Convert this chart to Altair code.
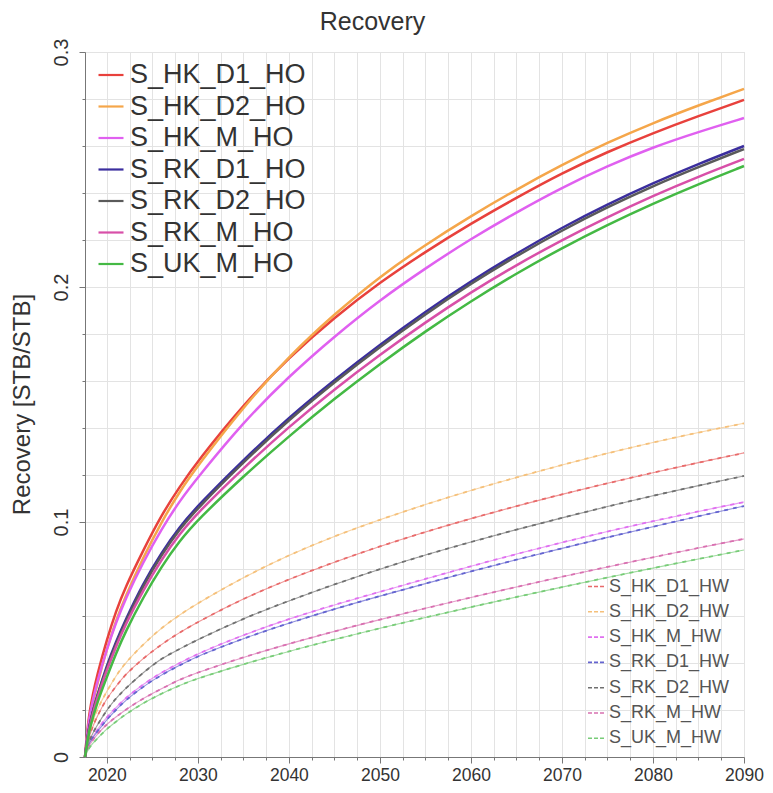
import altair as alt
import pandas as pd

# Simulation years (production starts mid-2017)
years = [2017.6, 2018, 2019, 2020, 2021, 2022, 2024, 2026, 2028, 2030, 2035,
         2040, 2045, 2050, 2055, 2060, 2065, 2070, 2075, 2080, 2085, 2090]

# Solid curves: "HO" cases
ho_names = ["S_HK_D1_HO", "S_HK_D2_HO", "S_HK_M_HO", "S_RK_D1_HO",
            "S_RK_D2_HO", "S_RK_M_HO", "S_UK_M_HO"]
ho_colors = ["#e8413c", "#f5a64a", "#e060f0", "#3b2e9e",
             "#5a5a5a", "#d84fa8", "#44b944"]
s_hk_d1_ho = [0, 0.019, 0.036, 0.050, 0.062, 0.072, 0.088, 0.103, 0.115, 0.126, 0.150,
              0.170, 0.187, 0.202, 0.215, 0.227, 0.238, 0.2485, 0.2575, 0.2655, 0.2728, 0.2796]
s_hk_d2_ho = [0, 0.016, 0.032, 0.046, 0.058, 0.068, 0.085, 0.100, 0.113, 0.124, 0.149,
              0.1705, 0.1885, 0.2045, 0.218, 0.2302, 0.2415, 0.252, 0.2615, 0.2698, 0.2773, 0.2843]
s_hk_m_ho = [0, 0.017, 0.033, 0.046, 0.057, 0.067, 0.083, 0.097, 0.109, 0.119, 0.1425,
             0.162, 0.179, 0.1945, 0.208, 0.2205, 0.2318, 0.2423, 0.2515, 0.2595, 0.266, 0.2719]
s_rk_d1_ho = [0, 0.013, 0.027, 0.039, 0.049, 0.058, 0.074, 0.087, 0.098, 0.107, 0.1265,
              0.1445, 0.1605, 0.1755, 0.1895, 0.2025, 0.2143, 0.2253, 0.2352, 0.2442, 0.2524, 0.260]
s_rk_d2_ho = [0, 0.013, 0.027, 0.038, 0.048, 0.057, 0.073, 0.086, 0.097, 0.106, 0.1255,
              0.1435, 0.1595, 0.1745, 0.1885, 0.2015, 0.2132, 0.2241, 0.2340, 0.2430, 0.2511, 0.2587]
s_rk_m_ho = [0, 0.012, 0.026, 0.037, 0.047, 0.056, 0.071, 0.084, 0.095, 0.104, 0.123,
             0.1405, 0.1565, 0.1712, 0.1850, 0.1978, 0.2094, 0.2200, 0.2298, 0.2388, 0.2470, 0.2545]
s_uk_m_ho = [0, 0.011, 0.024, 0.034, 0.044, 0.053, 0.068, 0.081, 0.092, 0.101, 0.1195,
             0.1365, 0.1525, 0.1673, 0.1812, 0.1940, 0.2058, 0.2166, 0.2265, 0.2355, 0.2438, 0.2515]

# Dashed curves: "HW" cases
hw_names = ["S_HK_D1_HW", "S_HK_D2_HW", "S_HK_M_HW", "S_RK_D1_HW",
            "S_RK_D2_HW", "S_RK_M_HW", "S_UK_M_HW"]
hw_colors = ["#e86a6a", "#f5c07a", "#e070f0", "#6464d0",
             "#707070", "#d870b0", "#78cc78"]
s_hk_d1_hw = [0, 0.009, 0.018, 0.025, 0.030, 0.035, 0.042, 0.048, 0.053, 0.0575, 0.0675,
              0.0757, 0.083, 0.0897, 0.0958, 0.1015, 0.1068, 0.1118, 0.1165, 0.1210, 0.1253, 0.1294]
s_hk_d2_hw = [0, 0.011, 0.021, 0.028, 0.0345, 0.040, 0.048, 0.055, 0.0605, 0.0655, 0.0765,
              0.086, 0.094, 0.101, 0.1075, 0.1135, 0.119, 0.1243, 0.1293, 0.1339, 0.1381, 0.142]
s_hk_m_hw = [0, 0.006, 0.012, 0.017, 0.021, 0.025, 0.031, 0.036, 0.040, 0.044, 0.052,
             0.0588, 0.0648, 0.0703, 0.0758, 0.0812, 0.0864, 0.0913, 0.0960, 0.1004, 0.1045, 0.1085]
s_rk_d1_hw = [0, 0.006, 0.011, 0.016, 0.020, 0.024, 0.030, 0.035, 0.039, 0.043, 0.0505,
              0.0570, 0.0630, 0.0685, 0.0738, 0.0790, 0.0840, 0.0888, 0.0935, 0.0980, 0.1025, 0.1068]
s_rk_d2_hw = [0, 0.007, 0.014, 0.020, 0.025, 0.029, 0.036, 0.042, 0.046, 0.050, 0.059,
              0.0665, 0.0735, 0.0800, 0.0860, 0.0915, 0.0968, 0.1018, 0.1066, 0.1112, 0.1155, 0.1196]
s_rk_m_hw = [0, 0.005, 0.010, 0.014, 0.017, 0.020, 0.025, 0.029, 0.033, 0.036, 0.0425,
             0.0482, 0.0535, 0.0585, 0.0633, 0.0679, 0.0724, 0.0767, 0.0809, 0.0850, 0.0890, 0.0928]
s_uk_m_hw = [0, 0.004, 0.008, 0.012, 0.015, 0.018, 0.023, 0.027, 0.0305, 0.0335, 0.0395,
             0.0450, 0.0500, 0.0548, 0.0594, 0.0638, 0.0681, 0.0723, 0.0764, 0.0804, 0.0843, 0.0881]

ho_values = [s_hk_d1_ho, s_hk_d2_ho, s_hk_m_ho, s_rk_d1_ho, s_rk_d2_ho, s_rk_m_ho, s_uk_m_ho]
hw_values = [s_hk_d1_hw, s_hk_d2_hw, s_hk_m_hw, s_rk_d1_hw, s_rk_d2_hw, s_rk_m_hw, s_uk_m_hw]

x_ticks = [2020 + 2.5 * i for i in range(29)]
y_ticks = [round(0.02 * i, 2) for i in range(16)]


def long_table(names, series):
    rows = []
    for name, vals in zip(names, series):
        for yr, v in zip(years, vals):
            rows.append({"year": yr, "recovery": v, "case": name})
    return pd.DataFrame(rows)


ho_df = long_table(ho_names, ho_values)
hw_df = long_table(hw_names, hw_values)

is_decade = "datum.value % 10 === 0"
is_tenth = "abs(datum.value * 10 - round(datum.value * 10)) < 0.000001"

x_enc = alt.X(
    "year:Q",
    scale=alt.Scale(domain=[2017.6, 2090], nice=False, zero=False),
    axis=alt.Axis(
        values=x_ticks,
        labelExpr=f"{is_decade} ? format(datum.value, 'd') : ''",
        title=None,
        labelFontSize=17.5,
        labelColor="#333333",
        labelPadding=3,
        tickSize={"condition": {"test": is_decade, "value": 6}, "value": 3},
        tickColor="#777777",
        domainColor="#777777",
        gridColor="#e3e3e3",
        labelFlush=False,
    ),
)
y_enc = alt.Y(
    "recovery:Q",
    scale=alt.Scale(domain=[0, 0.3], nice=False),
    axis=alt.Axis(
        values=y_ticks,
        labelExpr=f"{is_tenth} ? (datum.value === 0 ? '0' : format(datum.value, '.1f')) : ''",
        title="Recovery [STB/STB]",
        titleFontSize=24,
        titleFontWeight="normal",
        titleColor="#333333",
        titleAngle=270,
        titleX=-63,
        titleY=352,
        titleAlign="center",
        titleBaseline="middle",
        labelAngle=270,
        labelAlign="center",
        labelBaseline="bottom",
        labelFontSize=20,
        labelColor="#333333",
        labelPadding=8,
        tickSize={"condition": {"test": is_tenth, "value": 6}, "value": 3},
        tickColor="#777777",
        domainColor="#777777",
        gridColor="#e3e3e3",
        labelFlush=False,
    ),
)

hw_color = alt.Color("case:N", scale=alt.Scale(domain=hw_names, range=hw_colors))

# thin solid trace under each dashed HW curve
hw_base = alt.Chart(hw_df).mark_line(
    interpolate="basis", strokeWidth=1.1, opacity=0.7
).encode(x=x_enc, y=y_enc, color=hw_color.legend(None), detail="case:N")

hw_dash = alt.Chart(hw_df).mark_line(
    interpolate="basis", strokeWidth=1.8, strokeDash=[4, 5]
).encode(
    x=x_enc,
    y=y_enc,
    color=hw_color.legend(
        alt.Legend(
            title=None,
            orient="none",
            legendX=502,
            legendY=525,
            symbolType="stroke",
            symbolSize=289,
            symbolStrokeWidth=1.6,
            symbolDash=[4, 2],
            labelFontSize=18,
            labelColor="#555555",
            labelOffset=3,
            labelLimit=400,
            rowPadding=6.3,
        )
    ),
    detail="case:N",
)

ho_layer = alt.Chart(ho_df).mark_line(
    interpolate="basis", strokeWidth=2.5
).encode(
    x=x_enc,
    y=y_enc,
    color=alt.Color(
        "case:N",
        scale=alt.Scale(domain=ho_names, range=ho_colors),
        legend=alt.Legend(
            title=None,
            orient="none",
            legendX=12,
            legendY=9,
            symbolType="stroke",
            symbolSize=625,
            symbolStrokeWidth=2.2,
            labelFontSize=27,
            labelColor="#333333",
            labelOffset=5,
            labelLimit=400,
            rowPadding=4.5,
        ),
    ),
    detail="case:N",
)

chart = (
    alt.layer(hw_base, hw_dash, ho_layer)
    .resolve_scale(color="independent")
    .properties(
        width=659,
        height=705,
        autosize=alt.AutoSizeParams(type="none"),
        padding={"left": 85, "top": 52, "right": 29, "bottom": 36},
        title=alt.TitleParams(
            text="Recovery",
            fontSize=25,
            fontWeight="normal",
            color="#333333",
            anchor="middle",
            dx=-42,
            offset=3,
        ),
    )
    .configure_view(stroke="#c8c8c8")
    .configure(font="Liberation Sans", background="white")
)

chart.save("out.html", embed_options={"renderer": "svg", "actions": False})
